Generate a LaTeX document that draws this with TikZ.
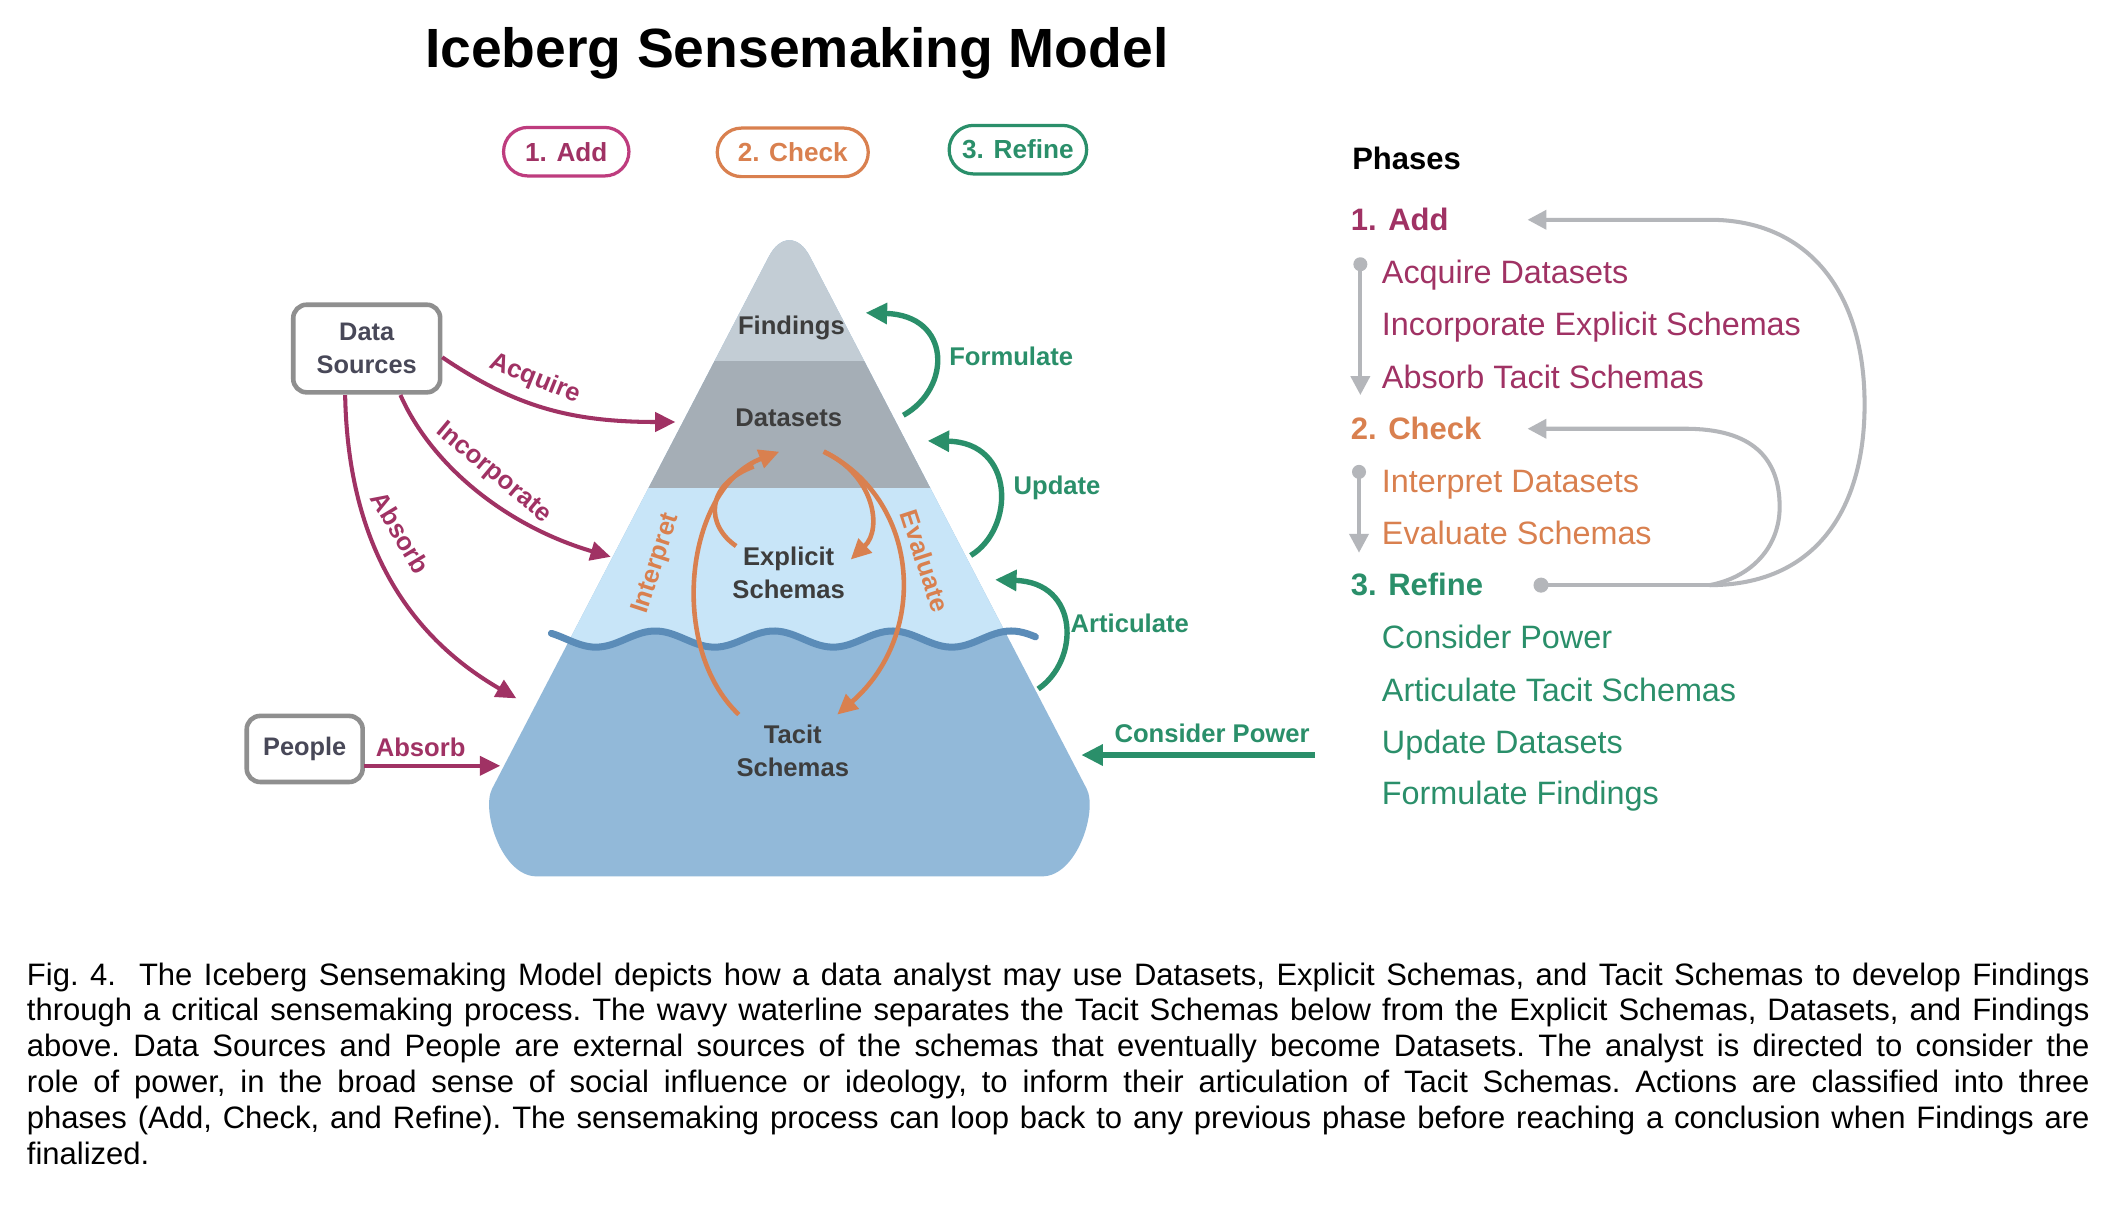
\documentclass[tikz,border=0pt]{standalone}
\usepackage{fontspec}
\setmainfont{Liberation Sans}
\usetikzlibrary{arrows.meta,calc}

\definecolor{addc}{HTML}{A03264}
\definecolor{addborder}{HTML}{BE3C7E}
\definecolor{checkc}{HTML}{D9804F}
\definecolor{refinec}{HTML}{2A8F6A}
\definecolor{loopgray}{HTML}{B4B6BA}
\definecolor{boxgray}{HTML}{8F8F8F}
\definecolor{labeltext}{HTML}{3D3D3D}
\definecolor{sourcetext}{HTML}{484858}
\definecolor{findingsc}{HTML}{C3CDD5}
\definecolor{datasetsc}{HTML}{A5AEB6}
\definecolor{explicitc}{HTML}{C8E5F8}
\definecolor{tacitc}{HTML}{92B9D9}
\definecolor{wavec}{HTML}{5B8CB8}

% outline of the iceberg body: rounded tip, bulging rounded base corners
\newcommand\bergoutline{(398,650) .. controls (372,650) and (356.7,601) .. (365,585) [rounded corners=16.5pt] -- (585.5,161) [sharp corners] -- (806,585) .. controls (814.3,601) and (799,650) .. (773,650) -- cycle}
% waterline profile
\newcommand\wavey[1]{474-6*sin((360/88)*(#1-464))}

\begin{document}
\begin{tikzpicture}[x=0.5pt,y=-0.5pt,
  every node/.style={inner sep=0pt, outer sep=0pt},
  layerlabel/.style={font=\fontsize{9.5}{12}\selectfont\bfseries, text=labeltext, align=center},
  sourcebox/.style={draw=boxgray, line width=1.7pt, rounded corners=5pt, fill=white, text=sourcetext, align=center, font=\fontsize{9.4}{12}\selectfont\bfseries},
  phasepill/.style={draw=#1, line width=1.2pt, rounded corners=9pt, minimum height=18pt, font=\fontsize{9.7}{12}\selectfont\bfseries},
  addflow/.style={draw=addc, line width=1.5pt, -{Triangle[length=7.5pt,width=7pt]}},
  checkflow/.style={draw=checkc, line width=1.7pt, -{Triangle[length=7.5pt,width=7pt]}},
  refineflow/.style={draw=refinec, line width=2pt, -{Triangle[length=8pt,width=7.5pt]}},
  loopline/.style={draw=loopgray, line width=1.5pt},
  looptip/.style={-{Triangle[length=7pt,width=7pt]}},
  addlabel/.style={text=addc, font=\fontsize{9.5}{12}\selectfont\bfseries},
  checklabel/.style={text=checkc, font=\fontsize{9.5}{12}\selectfont\bfseries},
  refinelabel/.style={text=refinec, font=\fontsize{9.5}{12}\selectfont\bfseries},
  phasehead/.style={anchor=base west, font=\fontsize{11.5}{14}\selectfont\bfseries},
  phaseitem/.style={anchor=base west, font=\fontsize{12}{14}\selectfont},
]
\useasboundingbox (0,0) rectangle (1568,896);
\fill[white] (0,0) rectangle (1568,896);

% title and phase pills
\node[anchor=base, font=\fontsize{20.5}{24}\selectfont\bfseries] (title) at (591,50) {Iceberg Sensemaking Model};
\node[phasepill=addborder, text=addc, minimum width=46.5pt] (pilladd) at (420,112.5) {1. Add};
\node[phasepill=checkc, text=checkc, minimum width=56pt] (pillcheck) at (588,113) {2. Check};
\node[phasepill=refinec, text=refinec, minimum width=51pt] (pillrefine) at (755,111) {3. Refine};

% iceberg body with its layers
\begin{scope}
  \clip \bergoutline;
  \fill[tacitc] (300,150) rectangle (870,660);
  \fill[explicitc] (409,362) -- (768,362) -- plot[domain=768:409, samples=120] (\x,{\wavey{\x}}) -- cycle;
  \fill[findingsc] (300,150) rectangle (870,268);
  \fill[datasetsc] (300,268) rectangle (870,362);
\end{scope}
\draw[wavec, line width=2.6pt, line cap=round] plot[domain=409:768, samples=120] (\x,{\wavey{\x}});

\node[layerlabel] (findings) at (587,243) {Findings};
\node[layerlabel] (datasets) at (585,310) {Datasets};
\node[layerlabel] (explicit) at (585,425) {Explicit\\Schemas};
\node[layerlabel] (tacit) at (588,557) {Tacit\\Schemas};

% external sources
\node[sourcebox, minimum width=54.5pt, minimum height=32.5pt] (ds) at (272,258.5) {Data\\Sources};
\node[sourcebox, minimum width=43pt, minimum height=24.5pt] (people) at (226,555.5) {People};

\coordinate (acqStart) at (328,265);
\coordinate (acqTip) at (501,313);
\coordinate (incStart) at (297,293);
\coordinate (incTip) at (453,413);
\coordinate (absStart) at (256,293);
\coordinate (absTip) at (383,518);
\coordinate (pplStart) at (270,568);
\coordinate (pplTip) at (371,568);

\draw[addflow] (acqStart) .. controls (380,300) and (420,313) .. (acqTip);
\draw[addflow] (incStart) .. controls (320,345) and (375,390) .. (incTip);
\draw[addflow] (absStart) .. controls (258,400) and (300,470) .. (absTip);
\draw[addflow] (pplStart) -- (pplTip);

\node[addlabel, rotate=-22] (acqlabel) at (397,281) {Acquire};
\node[addlabel, rotate=-40] (inclabel) at (366,351) {Incorporate};
\node[addlabel, rotate=-59] (abslabel) at (297,395) {Absorb};
\node[addlabel] (ppllabel) at (312,554) {Absorb};

% checking loops inside the iceberg
\coordinate (intTacit) at (548,530);
\coordinate (intExpl) at (546,405);
\coordinate (intJoin) at (559,346);
\coordinate (intTip) at (578,335);
\coordinate (evStart) at (611,335);
\coordinate (evExplTip) at (631,415);
\coordinate (evTacitTip) at (621,530);

\draw[checkflow] (intTacit) .. controls (495,480) and (508,362) .. (intTip);
\draw[checkflow, -] (intExpl) .. controls (524,390) and (522,360) .. (intJoin);
\draw[checkflow] (evStart) .. controls (682,370) and (690,470) .. (evTacitTip);
\draw[checkflow] (evStart) .. controls (648,352) and (655,392) .. (evExplTip);

\node[checklabel, rotate=72] (interpret) at (487,418) {Interpret};
\node[checklabel, rotate=-72] (evaluate) at (686,416) {Evaluate};

% refining moves on the right flank
\coordinate (formStart) at (670,308);
\coordinate (formTip) at (642,232);
\coordinate (updStart) at (720,412);
\coordinate (updTip) at (688,327);
\coordinate (artStart) at (770,511);
\coordinate (artTip) at (738,430);
\coordinate (powStart) at (975,560);
\coordinate (powTip) at (802,560);

\draw[refineflow] (formStart) .. controls (706,288) and (706,234) .. (formTip);
\draw[refineflow] (updStart) .. controls (753,392) and (753,328) .. (updTip);
\draw[refineflow] (artStart) .. controls (801,490) and (801,432) .. (artTip);
\draw[refineflow] (powStart) -- (powTip);

\node[refinelabel] (formlabel) at (750,264) {Formulate};
\node[refinelabel] (updlabel) at (784,362) {Update};
\node[refinelabel] (artlabel) at (838,462) {Articulate};
\node[refinelabel] (powlabel) at (899,544) {Consider Power};

% phase list
\node[phasehead] (phases) at (1003,126) {Phases};
\node[phasehead, text=addc] (addh) at (1002,171) {1. Add};
\node[phaseitem, text=addc] (acqitem) at (1025,210) {Acquire Datasets};
\node[phaseitem, text=addc] (incitem) at (1025,249) {Incorporate Explicit Schemas};
\node[phaseitem, text=addc] (absitem) at (1025,288) {Absorb Tacit Schemas};
\node[phasehead, text=checkc] (checkh) at (1002,326) {2. Check};
\node[phaseitem, text=checkc] (intitem) at (1025,365) {Interpret Datasets};
\node[phaseitem, text=checkc] (evitem) at (1025,404) {Evaluate Schemas};
\node[phasehead, text=refinec] (refineh) at (1002,442) {3. Refine};
\node[phaseitem, text=refinec] (powitem) at (1025,481) {Consider Power};
\node[phaseitem, text=refinec] (artitem) at (1025,520) {Articulate Tacit Schemas};
\node[phaseitem, text=refinec] (upditem) at (1025,559) {Update Datasets};
\node[phaseitem, text=refinec] (formitem) at (1025,597) {Formulate Findings};

% phase order and loop-backs
\coordinate (addDot) at (1009,196);
\coordinate (addEnd) at (1009,293);
\coordinate (checkDot) at (1008,350);
\coordinate (checkEnd) at (1008,410);
\coordinate (refDot) at (1143,434);
\coordinate (branch) at (1268,434);
\coordinate (toAdd) at (1133,163);
\coordinate (toCheck) at (1133,318);

\fill[loopgray] (addDot) circle (2.6pt);
\draw[loopline, looptip] (addDot) -- (addEnd);
\fill[loopgray] (checkDot) circle (2.6pt);
\draw[loopline, looptip] (checkDot) -- (checkEnd);
\fill[loopgray] (refDot) circle (2.8pt);
\draw[loopline] (refDot) -- (branch);
\draw[loopline, looptip] (branch) .. controls (1345,434) and (1383,380) .. (1383,300) .. controls (1383,215) and (1340,163) .. (1268,163) -- (toAdd);
\draw[loopline, looptip] (branch) .. controls (1300,428) and (1320,405) .. (1320,376) .. controls (1320,340) and (1300,318) .. (1250,318) -- (toCheck);

% caption
\node[anchor=north west, text width=765pt, align=justify, font=\fontsize{11.5}{13.3}\selectfont] (caption) at (20,714) {\frenchspacing\hyphenpenalty=10000\tolerance=9999
Fig. 4.\ \ The Iceberg Sensemaking Model depicts how a data analyst may use Datasets, Explicit Schemas, and Tacit Schemas to develop Findings\linebreak
through a critical sensemaking process. The wavy waterline separates the Tacit Schemas below from the Explicit Schemas, Datasets, and Findings\linebreak
above. Data Sources and People are external sources of the schemas that eventually become Datasets. The analyst is directed to consider the\linebreak
role of power, in the broad sense of social influence or ideology, to inform their articulation of Tacit Schemas. Actions are classified into three\linebreak
phases (Add, Check, and Refine). The sensemaking process can loop back to any previous phase before reaching a conclusion when Findings are\linebreak
finalized.};
\end{tikzpicture}
\end{document}
